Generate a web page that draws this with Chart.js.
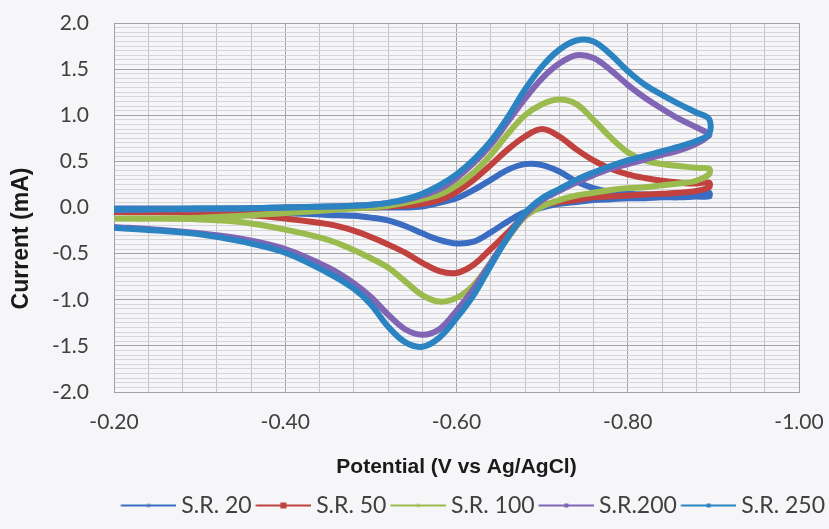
<!DOCTYPE html>
<html>
<head>
<meta charset="utf-8">
<script src="https://cdn.jsdelivr.net/npm/chart.js@4"></script>
<style>
  html, body { margin: 0; padding: 0; background: #f6f6f8; }
  canvas { display: block; }
</style>
</head>
<body>
<canvas id="cv" width="829" height="529"></canvas>
<script>
// Cyclic voltammograms at five scan rates.
const seriesNames = ['S.R. 20', 'S.R. 50', 'S.R. 100', 'S.R.200', 'S.R. 250'];

// Potential grid (V vs Ag/AgCl), from the start of the sweep to the switching potential
const potential = [-0.20, -0.25, -0.30, -0.35, -0.40, -0.45, -0.48, -0.50, -0.52, -0.54,
                   -0.56, -0.58, -0.60, -0.62, -0.64, -0.66, -0.68, -0.70, -0.72, -0.74,
                   -0.76, -0.78, -0.80, -0.82, -0.84, -0.86, -0.88, -0.895];

// Current (mA) on the outgoing sweep, one value per potential above
const sr20Forward  = [-0.01, -0.01, -0.01, -0.01, 0.00, 0.00, 0.00, 0.00, 0.00, 0.00,
                      0.01, 0.05, 0.10, 0.19, 0.30, 0.41, 0.47, 0.46, 0.39, 0.28,
                      0.21, 0.17, 0.15, 0.14, 0.14, 0.14, 0.15, 0.16];
const sr50Forward  = [-0.05, -0.05, -0.04, -0.03, -0.02, -0.01, 0.00, 0.00, 0.01, 0.02,
                      0.04, 0.08, 0.17, 0.30, 0.46, 0.63, 0.77, 0.85, 0.77, 0.63,
                      0.51, 0.42, 0.36, 0.32, 0.29, 0.27, 0.26, 0.27];
const sr100Forward = [-0.12, -0.12, -0.11, -0.09, -0.06, -0.03, -0.01, 0.00, 0.02, 0.05,
                      0.09, 0.14, 0.24, 0.38, 0.57, 0.80, 1.00, 1.12, 1.17, 1.12,
                      0.95, 0.76, 0.60, 0.51, 0.47, 0.45, 0.43, 0.42];
const sr200Forward = [-0.03, -0.02, -0.02, -0.01, 0.00, 0.01, 0.02, 0.03, 0.05, 0.08,
                      0.13, 0.20, 0.32, 0.48, 0.68, 0.93, 1.18, 1.40, 1.56, 1.65,
                      1.62, 1.49, 1.33, 1.19, 1.07, 0.96, 0.87, 0.80];
const sr250Forward = [-0.02, -0.02, -0.01, -0.01, 0.00, 0.01, 0.02, 0.03, 0.05, 0.09,
                      0.15, 0.24, 0.36, 0.52, 0.72, 0.98, 1.28, 1.53, 1.71, 1.81,
                      1.80, 1.66, 1.48, 1.33, 1.22, 1.12, 1.03, 0.96];

// Current (mA) on the return sweep, listed in the same potential order
const sr20Reverse  = [-0.03, -0.03, -0.04, -0.05, -0.06, -0.08, -0.09, -0.11, -0.14, -0.20,
                      -0.28, -0.35, -0.39, -0.37, -0.27, -0.15, -0.05, 0.00, 0.04, 0.06,
                      0.08, 0.09, 0.10, 0.10, 0.11, 0.11, 0.12, 0.12];
const sr50Reverse  = [-0.05, -0.05, -0.06, -0.08, -0.12, -0.18, -0.25, -0.32, -0.40, -0.49,
                      -0.60, -0.69, -0.71, -0.62, -0.45, -0.27, -0.09, 0.02, 0.06, 0.08,
                      0.11, 0.12, 0.13, 0.14, 0.15, 0.16, 0.18, 0.22];
const sr100Reverse = [-0.12, -0.12, -0.13, -0.16, -0.24, -0.35, -0.46, -0.55, -0.65, -0.80,
                      -0.95, -1.02, -0.98, -0.84, -0.60, -0.33, -0.10, 0.01, 0.08, 0.13,
                      0.16, 0.19, 0.21, 0.22, 0.24, 0.26, 0.29, 0.36];
const sr200Reverse = [-0.21, -0.24, -0.28, -0.34, -0.45, -0.65, -0.82, -0.97, -1.16, -1.32,
                      -1.38, -1.32, -1.12, -0.88, -0.60, -0.32, -0.08, 0.08, 0.18, 0.27,
                      0.35, 0.42, 0.47, 0.52, 0.57, 0.62, 0.69, 0.78];
const sr250Reverse = [-0.22, -0.25, -0.29, -0.37, -0.49, -0.71, -0.88, -1.05, -1.29, -1.46,
                      -1.51, -1.41, -1.20, -0.95, -0.63, -0.32, -0.06, 0.10, 0.20, 0.30,
                      0.38, 0.45, 0.51, 0.56, 0.61, 0.66, 0.72, 0.80];

const forwardSweeps = [sr20Forward, sr50Forward, sr100Forward, sr200Forward, sr250Forward];
const reverseSweeps = [sr20Reverse, sr50Reverse, sr100Reverse, sr200Reverse, sr250Reverse];

const seriesColors = ['#3a6cc2', '#c0413e', '#9bbb4f', '#8065b5', '#2b83c1'];
const markerSizes  = [3, 6, 3, 4, 4];

const xTitle = 'Potential (V vs Ag/AgCl)';
const yTitle = 'Current (mA)';

// Axis ranges and gridline spacing
const xRange = { min: -1.0, max: -0.2, minorStep: 0.04, majorStep: 0.2 };
const yRange = { min: -2.0, max: 2.0, minorStep: 0.05, majorStep: 0.5 };

function isMultiple(v, step) {
  const q = v / step;
  return Math.abs(q - Math.round(q)) < 1e-6;
}

function gridValues(r) {
  const n = Math.round((r.max - r.min) / r.minorStep);
  const vals = [];
  for (let i = 0; i <= n; i++) vals.push(Math.round((r.min + i * r.minorStep) * 1000) / 1000);
  return vals;
}

// A closed loop: outgoing sweep then the return sweep back to the start
function loopPoints(fwd, rev) {
  const pts = potential.map((v, i) => ({ x: v, y: fwd[i] }));
  for (let i = potential.length - 1; i >= 0; i--) pts.push({ x: potential[i], y: rev[i] });
  return pts;
}

// Legend glyph: a short line with a small marker in its middle
const legendBoxWidth = 49;
function legendGlyph(color, size) {
  const lead = 6.5;
  const c = document.createElement('canvas');
  c.width = legendBoxWidth + 2 * lead;
  c.height = 12;
  const g = c.getContext('2d');
  g.strokeStyle = color;
  g.lineWidth = 2;
  g.beginPath();
  g.moveTo(lead, 6);
  g.lineTo(c.width, 6);
  g.stroke();
  g.fillStyle = color;
  const mid = lead + (c.width - lead) / 2;
  g.fillRect(mid - size / 2, 6 - size / 2, size, size);
  return c;
}

const yTitlePlugin = {
  id: 'yTitle',
  afterDraw(chart) {
    const { ctx, chartArea } = chart;
    ctx.save();
    ctx.translate(22, (chartArea.top + chartArea.bottom) / 2 + 31);
    ctx.rotate(-Math.PI / 2);
    ctx.font = 'bold 23px "Liberation Sans", Arial, sans-serif';
    ctx.fillStyle = '#1a1a1a';
    ctx.textAlign = 'center';
    ctx.textBaseline = 'middle';
    ctx.fillText(yTitle, 0, 0);
    ctx.restore();
  }
};

const majorGrid = '#a2a2a6';
const minorGridX = '#c2c2c7';
const minorGridY = '#d6d6da';

function draw() {
  const datasets = seriesNames.map((name, i) => ({
    label: name,
    data: loopPoints(forwardSweeps[i], reverseSweeps[i]),
    showLine: true,
    borderColor: seriesColors[i],
    backgroundColor: seriesColors[i],
    borderWidth: 6,
    tension: 0.35,
    pointRadius: 0,
    pointHoverRadius: 0,
    pointStyle: legendGlyph(seriesColors[i], markerSizes[i]),
    order: seriesNames.length - i
  }));

  new Chart(document.getElementById('cv'), {
    type: 'scatter',
    data: { datasets },
    plugins: [yTitlePlugin],
    options: {
      responsive: false,
      animation: false,
      devicePixelRatio: 1,
      layout: { padding: { left: 0, right: 0, top: 23, bottom: 2 } },
      plugins: {
        tooltip: { enabled: false },
        legend: {
          position: 'bottom',
          align: 'end',
          labels: {
            usePointStyle: true,
            pointStyleWidth: legendBoxWidth,
            padding: 4,
            color: '#404040',
            font: { family: 'Lato', size: 23 },
            sort: (a, b) => a.datasetIndex - b.datasetIndex
          }
        }
      },
      scales: {
        x: {
          type: 'linear',
          reverse: true,
          min: xRange.min,
          max: xRange.max,
          afterBuildTicks: s => { s.ticks = gridValues(xRange).map(v => ({ value: v })); },
          afterFit: s => { s.height = 98; },
          ticks: {
            autoSkip: false,
            maxRotation: 0,
            padding: 18,
            color: '#404040',
            font: { family: 'Lato', size: 21 },
            callback: v => isMultiple(v, xRange.majorStep) ? v.toFixed(2) : ''
          },
          grid: {
            drawTicks: false,
            color: c => (c.tick && isMultiple(c.tick.value, xRange.majorStep)) ? majorGrid : minorGridX
          },
          border: { color: majorGrid },
          title: {
            display: true,
            text: xTitle,
            color: '#1a1a1a',
            font: { family: 'Liberation Sans', size: 21, weight: 'bold' },
            padding: { top: 0, bottom: 10 }
          }
        },
        y: {
          type: 'linear',
          min: yRange.min,
          max: yRange.max,
          afterBuildTicks: s => { s.ticks = gridValues(yRange).map(v => ({ value: v })); },
          afterFit: s => { s.width = 114; },
          ticks: {
            autoSkip: false,
            padding: 3,
            color: '#404040',
            font: { family: 'Lato', size: 21 },
            callback: v => isMultiple(v, yRange.majorStep) ? v.toFixed(1) : ''
          },
          grid: {
            drawTicks: true,
            tickLength: 22,
            tickColor: 'rgba(0,0,0,0)',
            color: c => (c.tick && isMultiple(c.tick.value, yRange.majorStep)) ? majorGrid : minorGridY
          },
          border: { color: majorGrid }
        },
        // empty axis that keeps a margin on the right of the plot
        yRight: {
          type: 'linear',
          position: 'right',
          display: true,
          grid: { display: false, drawTicks: false },
          ticks: { display: false },
          border: { display: false },
          afterFit: s => { s.width = 30; }
        }
      }
    }
  });
}

Promise.all([
  document.fonts.load('23px Lato'),
  document.fonts.load('bold 21px "Liberation Sans"')
]).then(draw, draw);
</script>
</body>
</html>
